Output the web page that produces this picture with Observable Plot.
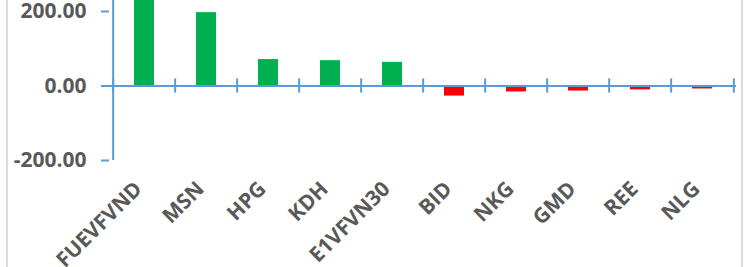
<!DOCTYPE html>
<html>
<head>
<meta charset="utf-8">
<script src="https://cdn.jsdelivr.net/npm/d3@7"></script>
<script src="https://cdn.jsdelivr.net/npm/@observablehq/plot@0.6"></script>
<style>
  html, body { margin: 0; padding: 0; background: #fff; }
  #wrap { position: relative; width: 745px; height: 267px; overflow: hidden; }
  #wrap .edge { position: absolute; top: 0; bottom: 0; width: 2px; background: #d9d9d9; }
</style>
</head>
<body>
<div id="wrap">
  <div class="edge" style="left:6px"></div>
  <div class="edge" style="left:741px"></div>
</div>
<script>
const categories = ["FUEVFVND", "MSN", "HPG", "KDH", "E1VFVN30", "BID", "NKG", "GMD", "REE", "NLG"];
const values = [300, 197, 71, 68, 63.5, -27, -16, -13.5, -10.5, -8];
const yTicks = [-200, 0, 200];

const data = categories.map((c, i) => ({name: c, value: values[i]}));

const W = 745, H = 267;
const mL = 109, mR = 9;
const pInner = 0.68, pOuter = 0.34;
const step = (W - mL - mR) / (categories.length - pInner + 2 * pOuter);
const axisColor = "#5b9bd5";
const textColor = "#595959";
const font = "'Open Sans', Lato, sans-serif";

const chart = Plot.plot({
  width: W,
  height: H,
  marginLeft: mL,
  marginRight: mR,
  marginTop: 0,
  marginBottom: H - 160,
  style: {fontFamily: font, background: "transparent", overflow: "hidden"},
  x: {domain: categories, paddingInner: pInner, paddingOuter: pOuter, label: null},
  y: {domain: [-200, 200], range: [160, 11], label: null},
  marks: [
    Plot.barY(data, {x: "name", y1: 0, y2: "value", fill: d => d.value >= 0 ? "#00b050" : "#ff0000", clip: true}),
    Plot.ruleY([0], {stroke: axisColor, strokeWidth: 2}),
    Plot.ruleX([categories[0]], {x: d => d, y1: -200, y2: 400, dx: -step / 2, stroke: axisColor, strokeWidth: 2, clip: true}),
    Plot.ruleX(categories, {x: d => d, y1: -19, y2: 19, dx: -step / 2, stroke: axisColor, strokeWidth: 2}),
    Plot.ruleX([categories[categories.length - 1]], {x: d => d, y1: -19, y2: 19, dx: step / 2, stroke: axisColor, strokeWidth: 2}),
    Plot.axisY({ticks: yTicks, tickFormat: d => d.toFixed(2), tickSize: 8, tickPadding: 15, stroke: axisColor, strokeWidth: 2, strokeOpacity: 1, fill: textColor, fontSize: 21, fontWeight: "bold", label: null}),
    Plot.axisX({anchor: "bottom", tickSize: 0, tickPadding: 25, dx: -6, tickRotate: -45, fill: textColor, fontSize: 21, fontWeight: "bold", label: null})
  ]
});
document.getElementById("wrap").prepend(chart);
</script>
</body>
</html>
